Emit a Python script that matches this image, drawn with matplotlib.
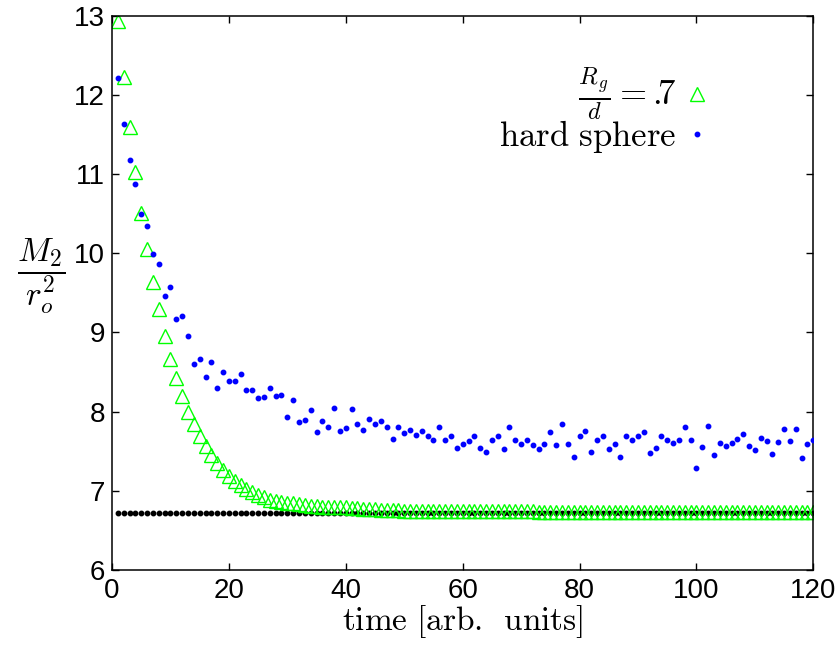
"""M2/r_o^2 relaxation: Rg/d = .7 chains vs hard spheres."""

import matplotlib
matplotlib.use("Agg")
import matplotlib.pyplot as plt
import numpy as np

# time steps (arb. units)
t = list(range(1, 121))

# Rg/d = .7 (open green triangles)
m2_rg = [
    12.93, 12.23, 11.60, 11.03, 10.51, 10.06, 9.64, 9.29, 8.96, 8.67,
    8.42, 8.20, 8.00, 7.84, 7.69, 7.56, 7.45, 7.35, 7.26, 7.19,
    7.12, 7.07, 7.02, 6.98, 6.95, 6.92, 6.89, 6.87, 6.86, 6.85,
    6.84, 6.83, 6.82, 6.81, 6.81, 6.80, 6.80, 6.79, 6.79, 6.79,
    6.78, 6.78, 6.77, 6.77, 6.77, 6.76, 6.76, 6.76, 6.76, 6.75,
    6.75, 6.75, 6.75, 6.75, 6.75, 6.74, 6.74, 6.74, 6.74, 6.74,
    6.74, 6.74, 6.74, 6.74, 6.74, 6.74, 6.74, 6.74, 6.74, 6.74,
    6.74, 6.74, 6.73, 6.73, 6.73, 6.73, 6.73, 6.73, 6.73, 6.73,
    6.73, 6.73, 6.73, 6.73, 6.73, 6.73, 6.73, 6.73, 6.73, 6.73,
    6.73, 6.73, 6.73, 6.73, 6.73, 6.73, 6.73, 6.73, 6.73, 6.73,
    6.73, 6.73, 6.73, 6.73, 6.73, 6.73, 6.73, 6.73, 6.73, 6.73,
    6.73, 6.73, 6.73, 6.73, 6.73, 6.73, 6.73, 6.73, 6.73, 6.73,
]

# hard sphere (blue dots)
m2_hs = [
    12.21, 11.63, 11.18, 10.88, 10.49, 10.34, 9.99, 9.87, 9.46, 9.57,
    9.17, 9.21, 8.95, 8.60, 8.67, 8.44, 8.63, 8.30, 8.50, 8.39,
    8.39, 8.48, 8.27, 8.27, 8.17, 8.18, 8.30, 8.20, 8.21, 7.93,
    8.15, 7.87, 7.90, 8.02, 7.74, 7.88, 7.80, 8.04, 7.75, 7.79,
    8.03, 7.85, 7.77, 7.91, 7.84, 7.88, 7.81, 7.65, 7.80, 7.73,
    7.77, 7.71, 7.75, 7.69, 7.64, 7.80, 7.64, 7.69, 7.54, 7.59,
    7.63, 7.69, 7.54, 7.49, 7.64, 7.69, 7.53, 7.80, 7.64, 7.59,
    7.64, 7.58, 7.53, 7.59, 7.74, 7.58, 7.85, 7.59, 7.43, 7.69,
    7.75, 7.49, 7.64, 7.69, 7.53, 7.59, 7.43, 7.69, 7.64, 7.69,
    7.74, 7.48, 7.54, 7.69, 7.64, 7.60, 7.64, 7.80, 7.64, 7.29,
    7.55, 7.82, 7.45, 7.61, 7.56, 7.61, 7.66, 7.72, 7.56, 7.51,
    7.67, 7.63, 7.47, 7.62, 7.78, 7.63, 7.78, 7.42, 7.59, 7.64,
]

# asymptotic level (black dotted line)
m2_limit = 6.72

x_ticks = [0, 20, 40, 60, 80, 100, 120]
y_ticks = [6, 7, 8, 9, 10, 11, 12, 13]

plt.rcParams["mathtext.fontset"] = "cm"

fig = plt.figure(figsize=(8.39, 6.47), dpi=100)
ax = fig.add_axes([0.1335, 0.119, 0.8359, 0.8567])

ax.plot(t, [m2_limit] * len(t), ls="none", marker="o", ms=3.2,
        color="black", zorder=1)
ax.plot(t, m2_rg, ls="none", marker="^", ms=10.5, mfc="none",
        mec="#00ff00", mew=1.0, label=r"$\frac{R_{\,g}}{d} = .\!\!7$",
        zorder=2)
ax.plot(t, m2_hs, ls="none", marker="o", ms=3.2, color="#0000ff",
        label=r"$\mathrm{hard\ sphere}$", zorder=3)

ax.set_xlim(0, 120)
ax.set_ylim(6, 13)
ax.set_xticks(x_ticks)
ax.set_yticks(y_ticks)

for lbl in ax.get_xticklabels() + ax.get_yticklabels():
    lbl.set_fontfamily("Liberation Sans")
    lbl.set_fontsize(20)

ax.tick_params(direction="in", length=5, width=1.0, top=True, right=True)
ax.tick_params(axis="x", pad=6)
ax.tick_params(axis="y", pad=5)
for s in ax.spines.values():
    s.set_linewidth(1.1)

ax.set_xlabel(r"$\mathrm{time\ [arb.\ \,units]}$", fontsize=24, labelpad=-1)
ax.set_ylabel(r"$\dfrac{M_2}{r_o^2}$", fontsize=24, rotation=0)
ax.yaxis.set_label_coords(-0.101, 0.53)
ax.yaxis.label.set_verticalalignment("center")

ax.legend(loc="upper right", bbox_to_anchor=(0.874, 0.94), markerfirst=False,
          frameon=False, fontsize=25, handlelength=0.6, handletextpad=0.3,
          labelspacing=-0.15, borderpad=0)

fig.savefig("out.png", dpi=100)
